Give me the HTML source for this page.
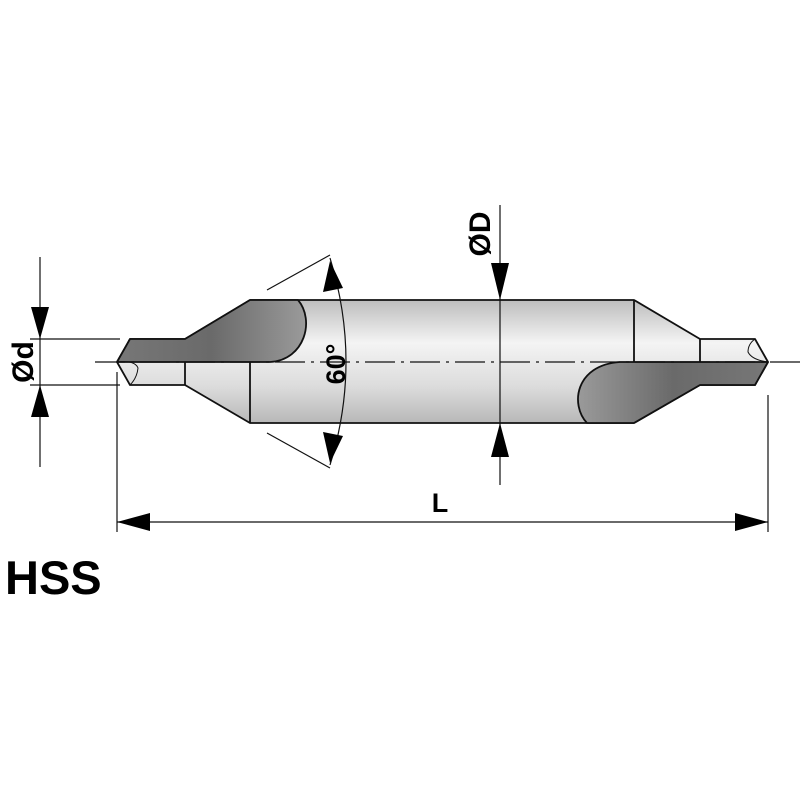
<!DOCTYPE html>
<html><head><style>body{margin:0;background:#fff}svg{display:block}</style></head><body>
<svg width="800" height="800" viewBox="0 0 800 800" xmlns="http://www.w3.org/2000/svg" font-family="Liberation Sans, sans-serif">
<defs>
<linearGradient id="g" x1="0" y1="0" x2="0" y2="1">
<stop offset="0" stop-color="#bdbdbd"/><stop offset="0.35" stop-color="#f4f4f4"/><stop offset="0.7" stop-color="#dcdcdc"/><stop offset="1" stop-color="#b8b8b8"/></linearGradient>
<linearGradient id="d" x1="0" y1="0" x2="1" y2="0">
<stop offset="0" stop-color="#777"/><stop offset="0.5" stop-color="#6a6a6a"/><stop offset="1" stop-color="#9a9a9a"/></linearGradient>
<linearGradient id="d2" x1="1" y1="0" x2="0" y2="0">
<stop offset="0" stop-color="#777"/><stop offset="0.5" stop-color="#6a6a6a"/><stop offset="1" stop-color="#9a9a9a"/></linearGradient>
</defs>
<g stroke="#111" stroke-width="1.8" stroke-linejoin="round">
<path d="M117,362 L130,339 L185,339 L250,300 L634,300 L700,339 L755,339 L768,362 L755,385 L700,385 L634,423 L250,423 L185,385 L130,385 Z" fill="url(#g)"/>
<line x1="250" y1="300" x2="250" y2="423"/>
<line x1="634" y1="300" x2="634" y2="423"/>
<line x1="185" y1="362" x2="185" y2="385"/>
<line x1="700" y1="339" x2="700" y2="362"/>
<path d="M117,362 L130,339 L185,339 L250,300 L298,300 C315,320 305,360 270,362 Z" fill="url(#d)"/>
<path d="M768,362 L755,385 L700,385 L634,423 L587,423 C570,405 575,365 620,362 Z" fill="url(#d2)"/>
<path d="M117,362 Q135,360 138,368 Q137,378 130,385" fill="none" stroke-width="1"/>
<path d="M768,362 Q752,360 748,352 Q748,344 755,339" fill="none" stroke-width="1"/>
</g>
<g stroke="#111" stroke-width="1.2" fill="none">
<line x1="95" y1="362" x2="800" y2="362" stroke-dasharray="30,6,3,6"/>
<line x1="40" y1="257" x2="40" y2="467"/>
<line x1="30" y1="339" x2="120" y2="339"/>
<line x1="30" y1="385" x2="120" y2="385"/>
<line x1="117" y1="372" x2="117" y2="532"/>
<line x1="768" y1="395" x2="768" y2="532"/>
<line x1="117" y1="522" x2="768" y2="522"/>
<line x1="500" y1="205" x2="500" y2="485"/>
<line x1="267" y1="290" x2="330" y2="255"/>
<line x1="267" y1="433" x2="330" y2="468"/>
<path d="M330,258 Q362,362 330,465"/>
</g>
<g fill="#000">
<polygon points="31,307 49,307 40,339"/>
<polygon points="31,417 49,417 40,385"/>
<polygon points="491,263 509,263 500,300"/>
<polygon points="491,457 509,457 500,423"/>
<polygon points="117,522 150,513 150,531"/>
<polygon points="768,522 735,513 735,531"/>
<polygon points="330,261 323,292 343,288"/>
<polygon points="330,463 323,432 343,436"/>
</g>
<g font-weight="bold" fill="#000">
<text x="0" y="0" font-size="30" transform="translate(33,362) rotate(-90)" text-anchor="middle">Ød</text>
<text x="0" y="0" font-size="30" transform="translate(490,234) rotate(-90)" text-anchor="middle">ØD</text>
<text x="0" y="0" font-size="27" transform="translate(345,364) rotate(-90)" text-anchor="middle">60°</text>
<text x="440" y="512" font-size="27" text-anchor="middle">L</text>
<text x="5" y="594" font-size="47">HSS</text>
</g>
</svg>
</body></html>
